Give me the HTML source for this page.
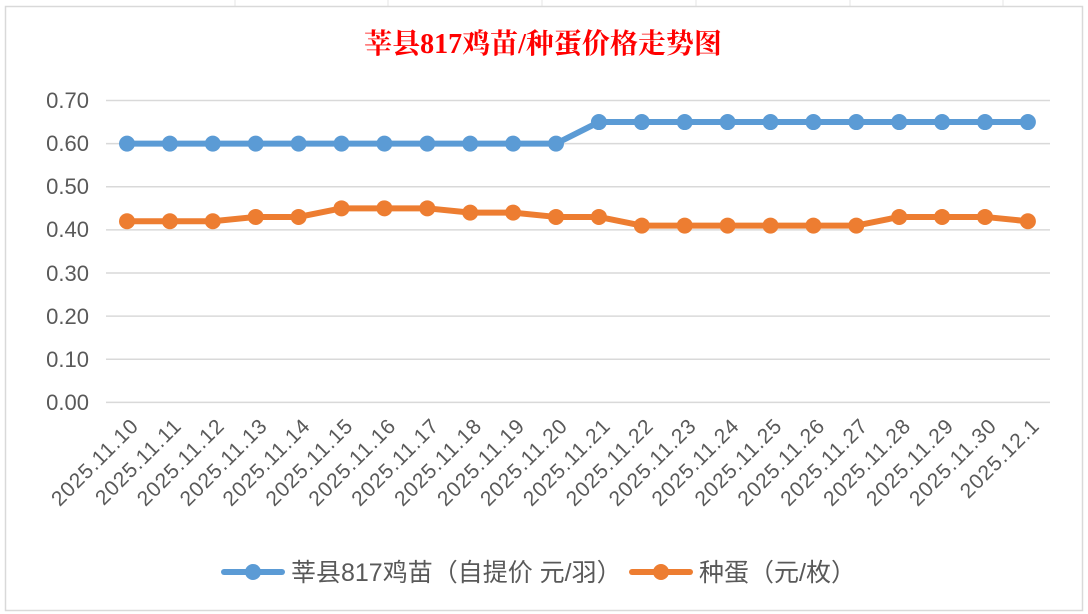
<!DOCTYPE html><html><head><meta charset="utf-8"><style>body{margin:0;background:#fff}svg{display:block}</style></head><body>
<svg width="1088" height="614" xmlns="http://www.w3.org/2000/svg" font-family="'Liberation Sans','Noto Sans CJK SC',sans-serif">
<rect x="0" y="0" width="1088" height="614" fill="#fff"/>
<g stroke="#e4e4e4" stroke-width="1"><line x1="235" y1="0" x2="235" y2="6"/><line x1="388" y1="0" x2="388" y2="6"/><line x1="542" y1="0" x2="542" y2="6"/><line x1="696" y1="0" x2="696" y2="6"/><line x1="850" y1="0" x2="850" y2="6"/><line x1="1003" y1="0" x2="1003" y2="6"/></g>
<rect x="5.5" y="6.5" width="1077" height="604" fill="#fff" stroke="#d9d9d9" stroke-width="1.5"/>
<text x="543" y="53" text-anchor="middle" fill="#ff0000" font-size="28" font-weight="bold" font-family="'Liberation Serif','Noto Serif CJK SC',serif">莘县817鸡苗/种蛋价格走势图</text>
<g stroke="#d9d9d9" stroke-width="1.5">
<line x1="106" x2="1050" y1="100.5" y2="100.5"/><line x1="106" x2="1050" y1="143.6" y2="143.6"/><line x1="106" x2="1050" y1="186.7" y2="186.7"/><line x1="106" x2="1050" y1="229.9" y2="229.9"/><line x1="106" x2="1050" y1="273" y2="273"/><line x1="106" x2="1050" y1="316.1" y2="316.1"/><line x1="106" x2="1050" y1="359.3" y2="359.3"/><line x1="106" x2="1050" y1="402.4" y2="402.4"/>
</g>
<g fill="#595959" font-size="22" text-anchor="end">
<text x="89" y="108">0.70</text><text x="89" y="151">0.60</text><text x="89" y="194">0.50</text><text x="89" y="237">0.40</text><text x="89" y="281">0.30</text><text x="89" y="324">0.20</text><text x="89" y="367">0.10</text><text x="89" y="410">0.00</text>
</g>
<g id="plot"></g>
<g fill="#595959" font-size="21" letter-spacing="1" id="xl"></g>
<g font-size="25" fill="#595959">
<line x1="224" y1="572" x2="282" y2="572" stroke="#5b9bd5" stroke-width="6" stroke-linecap="round"/><circle cx="253" cy="572" r="8" fill="#5b9bd5"/>
<text x="291" y="581">莘县817鸡苗（自提价 元/羽）</text>
<line x1="632" y1="572" x2="690" y2="572" stroke="#ed7d31" stroke-width="6" stroke-linecap="round"/><circle cx="661" cy="572" r="8" fill="#ed7d31"/>
<text x="699" y="581">种蛋（元/枚）</text>
</g>
<script>
var b=[.6,.6,.6,.6,.6,.6,.6,.6,.6,.6,.6,.65,.65,.65,.65,.65,.65,.65,.65,.65,.65,.65];
var o=[.42,.42,.42,.43,.43,.45,.45,.45,.44,.44,.43,.43,.41,.41,.41,.41,.41,.41,.43,.43,.43,.42];
var L=["2025.11.10","2025.11.11","2025.11.12","2025.11.13","2025.11.14","2025.11.15","2025.11.16","2025.11.17","2025.11.18","2025.11.19","2025.11.20","2025.11.21","2025.11.22","2025.11.23","2025.11.24","2025.11.25","2025.11.26","2025.11.27","2025.11.28","2025.11.29","2025.11.30","2025.12.1"];
var NS="http://www.w3.org/2000/svg",g=document.getElementById("plot"),xl=document.getElementById("xl");
function X(i){return 127+i*42.9}function Y(v){return 402.4-v*431.3}
function s(d,c){var p="";d.forEach(function(v,i){p+=(i?"L":"M")+X(i)+" "+Y(v)});var e=document.createElementNS(NS,"path");e.setAttribute("d",p);e.setAttribute("fill","none");e.setAttribute("stroke",c);e.setAttribute("stroke-width","6");e.setAttribute("stroke-linejoin","round");g.appendChild(e);
d.forEach(function(v,i){var k=document.createElementNS(NS,"circle");k.setAttribute("cx",X(i));k.setAttribute("cy",Y(v));k.setAttribute("r","8");k.setAttribute("fill",c);g.appendChild(k)})}
s(b,"#5b9bd5");s(o,"#ed7d31");
L.forEach(function(t,i){var e=document.createElementNS(NS,"text");var x=X(i)+13,y=427;e.setAttribute("x",x);e.setAttribute("y",y);e.setAttribute("text-anchor","end");e.setAttribute("transform","rotate(-45 "+x+" "+y+")");e.textContent=t;xl.appendChild(e)});
</script>
</svg></body></html>
